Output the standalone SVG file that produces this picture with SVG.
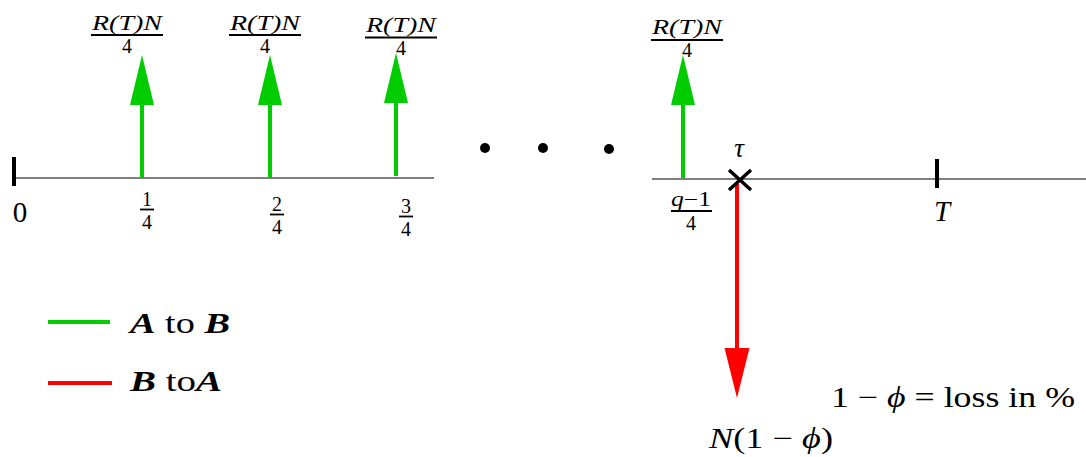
<svg xmlns="http://www.w3.org/2000/svg" width="1086" height="457" viewBox="0 0 1086 457">
<style>
text{font-family:"Liberation Serif","DejaVu Serif",serif;fill:#000}
.it{font-style:italic}
.bi{font-style:italic;font-weight:bold}
.sm{font-size:21px}
.fr{font-size:20px}
.big{font-size:29px}
.axis{stroke:#555;stroke-width:1.5;fill:none}
.tick{stroke:#000;stroke-width:4}
.bar{stroke:#000;stroke-width:1.8}
.g{stroke:#00cc00;stroke-width:4;fill:none}
.gh{fill:#00cc00}
.r{stroke:#ff0000;stroke-width:4;fill:none}
.rh{fill:#ff0000}
</style>
<rect width="1086" height="457" fill="#fff"/>
<g id="connectors">
<line class="axis" x1="14" y1="178" x2="434" y2="178"/>
<line class="axis" x1="652" y1="179" x2="1086" y2="179"/>
<line class="g" x1="142" y1="178" x2="142" y2="100"/>
<polygon class="gh" points="142,55 130,105 154,105"/>
<line class="g" x1="270" y1="178" x2="270" y2="100"/>
<polygon class="gh" points="270,55 258,105 282,105"/>
<line class="g" x1="396" y1="176" x2="396" y2="98"/>
<polygon class="gh" points="396,53 384,103 408,103"/>
<line class="g" x1="683" y1="178" x2="683" y2="100"/>
<polygon class="gh" points="683,55 671,105 695,105"/>
<line class="r" x1="737" y1="184" x2="737" y2="352"/>
<polygon class="rh" points="737,398 724.5,348 749.5,348"/>
</g>
<g id="tick-0">
<line class="tick" x1="14" y1="157" x2="14" y2="186"/>
<text class="big" x="20" y="222" text-anchor="middle">0</text>
</g>
<g id="tick-T">
<line class="tick" x1="937" y1="159" x2="937" y2="188"/>
<text class="big it" x="942" y="221" text-anchor="middle">T</text>
</g>
<g id="label-1-4">
<text class="fr" x="147" y="206" text-anchor="middle">1</text>
<line class="bar" x1="140" y1="209.5" x2="154" y2="209.5"/>
<text class="fr" x="147" y="229" text-anchor="middle">4</text>
</g>
<g id="label-2-4">
<text class="fr" x="277" y="211" text-anchor="middle">2</text>
<line class="bar" x1="270" y1="214.5" x2="284" y2="214.5"/>
<text class="fr" x="277" y="234" text-anchor="middle">4</text>
</g>
<g id="label-3-4">
<text class="fr" x="406" y="213" text-anchor="middle">3</text>
<line class="bar" x1="399" y1="216.5" x2="413" y2="216.5"/>
<text class="fr" x="406" y="236" text-anchor="middle">4</text>
</g>
<g id="label-q-1-4">
<text class="fr" x="671" y="206" textLength="40" lengthAdjust="spacingAndGlyphs"><tspan class="it">q</tspan>−1</text>
<line class="bar" x1="671" y1="211" x2="712" y2="211"/>
<text class="fr" x="691" y="230" text-anchor="middle">4</text>
</g>
<g id="payment-1">
<text class="sm it" x="127" y="30" text-anchor="middle" textLength="70" lengthAdjust="spacingAndGlyphs">R(T)N</text>
<line class="bar" x1="91" y1="35" x2="163" y2="35"/>
<text class="fr" x="127" y="53" text-anchor="middle">4</text>
</g>
<g id="payment-2">
<text class="sm it" x="265" y="30" text-anchor="middle" textLength="70" lengthAdjust="spacingAndGlyphs">R(T)N</text>
<line class="bar" x1="229" y1="35" x2="301" y2="35"/>
<text class="fr" x="265" y="53" text-anchor="middle">4</text>
</g>
<g id="payment-3">
<text class="sm it" x="401" y="32" text-anchor="middle" textLength="70" lengthAdjust="spacingAndGlyphs">R(T)N</text>
<line class="bar" x1="365" y1="37.5" x2="437" y2="37.5"/>
<text class="fr" x="401" y="55" text-anchor="middle">4</text>
</g>
<g id="payment-q">
<text class="sm it" x="687" y="34" text-anchor="middle" textLength="70" lengthAdjust="spacingAndGlyphs">R(T)N</text>
<line class="bar" x1="651" y1="40" x2="723" y2="40"/>
<text class="fr" x="687" y="57" text-anchor="middle">4</text>
</g>
<g id="dots">
<circle cx="485" cy="148" r="5"/>
<circle cx="543" cy="148" r="5"/>
<circle cx="609" cy="149" r="5"/>
</g>
<g id="tau">
<text class="it" font-size="27" x="739" y="157" text-anchor="middle">τ</text>
<path d="M729,170 L751,190 M751,170 L729,190" stroke="#000" stroke-width="3.5" fill="none"/>
</g>
<g id="loss-amount">
<text class="big" x="709" y="448" textLength="124" lengthAdjust="spacingAndGlyphs"><tspan class="it">N</tspan>(1 − <tspan class="it">ϕ</tspan>)</text>
</g>
<g id="loss-def">
<text class="big" x="831" y="407" textLength="244" lengthAdjust="spacingAndGlyphs">1 − <tspan class="it">ϕ</tspan> =  loss in %</text>
</g>
<g id="legend-green">
<line class="g" x1="48" y1="322" x2="110" y2="322"/>
<text class="big" x="130" y="333" textLength="100" lengthAdjust="spacingAndGlyphs"><tspan class="bi">A</tspan> to <tspan class="bi">B</tspan></text>
</g>
<g id="legend-red">
<line class="r" x1="48" y1="383" x2="112" y2="383"/>
<text class="big" x="130" y="391" textLength="92" lengthAdjust="spacingAndGlyphs"><tspan class="bi">B</tspan> to<tspan class="bi">A</tspan></text>
</g>
</svg>
